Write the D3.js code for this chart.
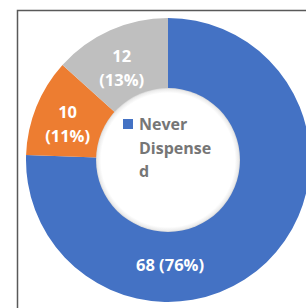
<!doctype html>
<title>Never Dispensed donut</title>
<script src="https://cdn.jsdelivr.net/npm/d3@7"></script>
<style>
body, html {
  margin: 0;
  width: 100%;
  height: 100%;
  background: #fff;
}
svg text {
  font-family: "Open Sans", Lato, sans-serif;
  font-weight: bold;
}
</style>
<div id="chart"></div>
<script>
// slice values (clockwise from 12 o'clock)
var categories = ["Never Dispensed", "Other A", "Other B"];
var counts = [68, 10, 12];
var percents = ["76%", "11%", "13%"];
var colors = ["#4472C4", "#ED7D31", "#BFBFBF"];
var legendLines = ["Never", "Dispense", "d"];

var width = 306, height = 308;
var cx = 168, cy = 160;
var outerR = 142, innerR = 71;

var svg = d3.select("#chart").append("svg")
  .attr("width", width)
  .attr("height", height);

// frame
svg.append("path")
  .attr("d", "M17.5," + height + "V10.5H" + width)
  .attr("fill", "none")
  .attr("stroke", "#595959")
  .attr("stroke-width", 1.5);

var defs = svg.append("defs");
var grad = defs.append("radialGradient").attr("id", "hole");
grad.append("stop").attr("offset", "0.93").attr("stop-color", "#fff");
grad.append("stop").attr("offset", "0.98").attr("stop-color", "#ececec");
grad.append("stop").attr("offset", "1").attr("stop-color", "#d6d6d6");

var pie = d3.pie().sort(null).value(function(d) { return d; });
var arcs = pie(counts);

var arc = d3.arc().innerRadius(innerR).outerRadius(outerR);

var g = svg.append("g").attr("transform", "translate(" + cx + "," + cy + ")");

g.selectAll("path.slice")
  .data(arcs)
  .enter().append("path")
  .attr("class", "slice")
  .attr("d", arc)
  .attr("fill", function(d, i) { return colors[i]; });

// soft edge of the hole
g.append("circle")
  .attr("r", innerR + 1)
  .attr("fill", "url(#hole)");

// data labels
var labelArc = d3.arc().innerRadius(104).outerRadius(104);
arcs.forEach(function(d, i) {
  var a = d;
  // the big slice has its label at the bottom
  if (i === 0) a = {startAngle: Math.PI, endAngle: Math.PI};
  var c = labelArc.centroid(a);
  var t = g.append("text")
    .attr("text-anchor", "middle")
    .attr("fill", "#fff")
    .attr("font-size", 16.5);
  if (i === 0) {
    t.attr("x", c[0] + 2).attr("y", c[1] + 7)
      .text(counts[i] + " (" + percents[i] + ")");
  } else {
    t.append("tspan").attr("x", c[0] - 4).attr("y", c[1] - 3).text(counts[i]);
    t.append("tspan").attr("x", c[0] - 4).attr("y", c[1] + 21).text("(" + percents[i] + ")");
  }
});

// legend inside the hole
svg.append("rect")
  .attr("x", 123).attr("y", 119)
  .attr("width", 10).attr("height", 10)
  .attr("fill", colors[0]);

svg.append("g").selectAll("text")
  .data(legendLines)
  .enter().append("text")
  .attr("x", 139)
  .attr("y", function(d, i) { return 130 + i * 23.5; })
  .attr("font-size", 16)
  .attr("fill", "#767676")
  .text(function(d) { return d; });
</script>
